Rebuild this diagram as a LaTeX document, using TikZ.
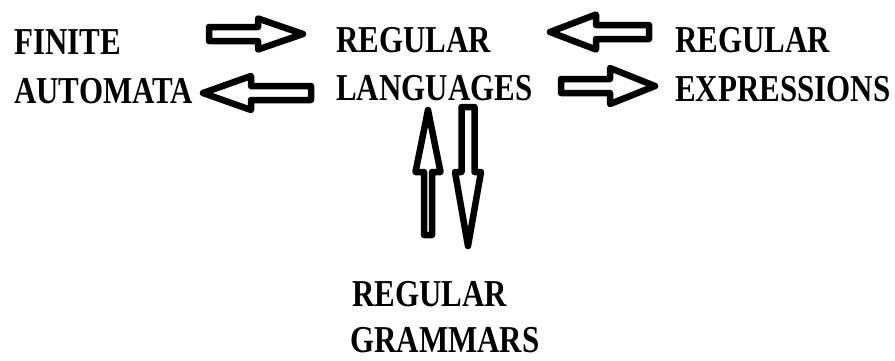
\documentclass[tikz,border=0pt]{standalone}
\usepackage{fontspec}
\newfontfamily\lblfont[FakeStretch=0.815]{Liberation Serif}
\usetikzlibrary{calc}
\tikzset{
  lbl/.style={anchor=base west, inner sep=0pt, font=\lblfont\bfseries\fontsize{38}{42}\selectfont},
  blockarrow/.style={draw=black, fill=white, line width=6.5pt, line join=round}
}
\newcommand{\barrow}[5]{%
  \coordinate (hb) at ($(#2)!#5!(#1)$);
  \draw[blockarrow] ($(#1)!#3!90:(#2)$) -- ($(hb)!#3!-90:(#1)$) -- ($(hb)!#4!-90:(#1)$) -- (#2)
    -- ($(hb)!#4!90:(#1)$) -- ($(hb)!#3!90:(#1)$) -- ($(#1)!#3!-90:(#2)$) -- cycle;}
\begin{document}
\begin{tikzpicture}[x=1pt,y=-1pt]
\useasboundingbox (0,0) rectangle (895,360);
\node[lbl] (fa1) at (14,54) {FINITE};
\node[lbl] (fa2) at (14,103) {AUTOMATA};
\node[lbl] (rl1) at (336,52) {REGULAR};
\node[lbl] (rl2) at (336,100) {LANGUAGES};
\node[lbl] (re1) at (675,52) {REGULAR};
\node[lbl] (re2) at (675,101) {EXPRESSIONS};
\node[lbl] (rg1) at (352,306) {REGULAR};
\node[lbl] (rg2) at (350,352) {GRAMMARS};
% arrow end points
\coordinate (a1s) at (209,34);  \coordinate (a1e) at (303,34);
\coordinate (a2s) at (311,93);  \coordinate (a2e) at (203,93);
\coordinate (a3s) at (649,32);  \coordinate (a3e) at (550,32);
\coordinate (a4s) at (561,86);  \coordinate (a4e) at (655,86);
\coordinate (a5s) at (428,235); \coordinate (a5e) at (428,110);
\coordinate (a6s) at (468,107); \coordinate (a6e) at (468,246);
\barrow{a1s}{a1e}{7pt}{15.5pt}{45pt}
\barrow{a2s}{a2e}{7pt}{17pt}{48pt}
\barrow{a3s}{a3e}{7pt}{17.5pt}{46pt}
\barrow{a4s}{a4e}{7pt}{18pt}{45pt}
\barrow{a5s}{a5e}{4pt}{12.5pt}{62pt}
\barrow{a6s}{a6e}{6.5pt}{13pt}{74pt}
\end{tikzpicture}
\end{document}
